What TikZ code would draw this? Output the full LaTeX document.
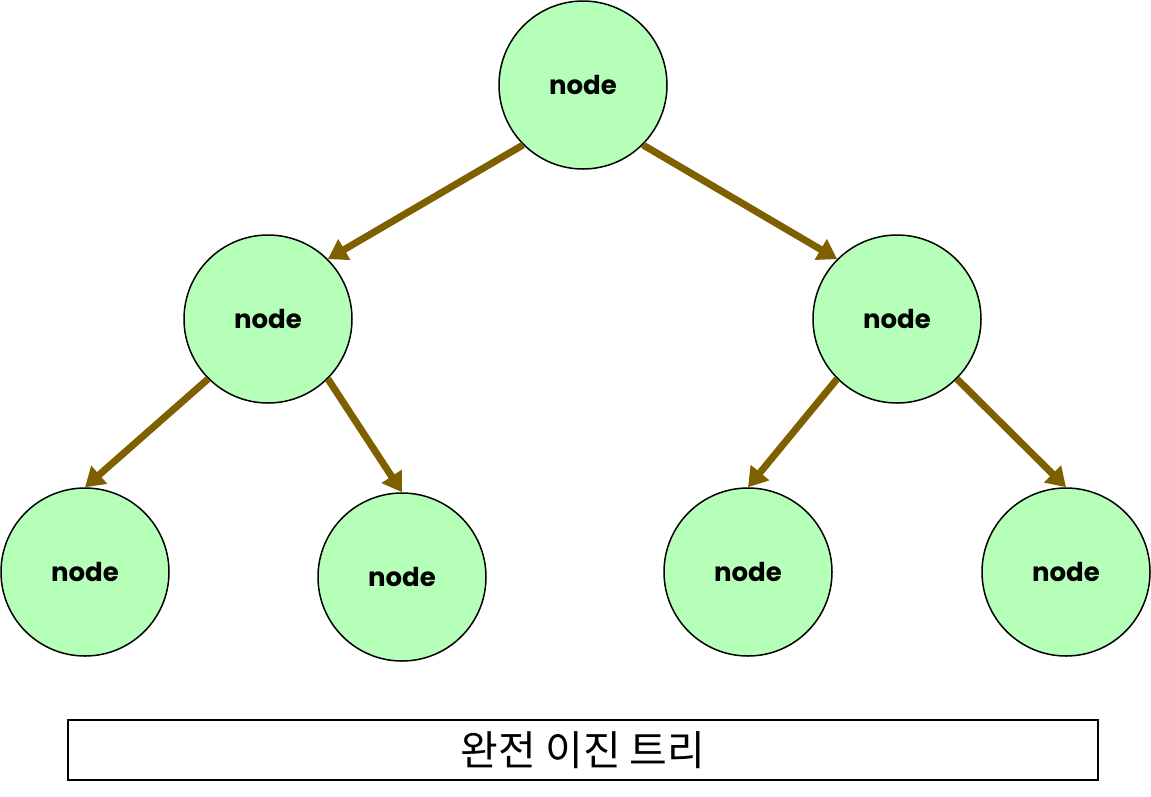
\documentclass[tikz,border=0pt]{standalone}
\usepackage{fontspec}
\setmainfont{Poppins}
\newfontfamily\krfont{Noto Sans CJK KR}
\usetikzlibrary{arrows.meta}
\definecolor{nodegreen}{HTML}{B5FFB8}
\definecolor{edgebrown}{HTML}{7F6000}
\begin{document}
\begin{tikzpicture}[x=1pt, y=-1pt,
    tnode/.style={circle, draw, line width=1.5pt, fill=nodegreen, minimum size=168pt, inner sep=0pt, font=\fontsize{26}{30}\selectfont\bfseries},
    tedge/.style={draw=edgebrown, line width=7pt, -{Triangle[length=19pt, width=23pt]}}]
    \useasboundingbox (0,0) rectangle (1151,796);
    \node[tnode] (tid0) at (583,85){node};
    \node[tnode] (tid1) at (268,319){node};
    \node[tnode] (tid2) at (897,319){node};
    \node[tnode] (tid3) at (85,572){node};
    \node[tnode] (tid4) at (402,577){node};
    \node[tnode] (tid5) at (748,572){node};
    \node[tnode] (tid6) at (1066,572){node};
    \draw[tedge](tid0.225) -- (tid1.45);
    \draw[tedge](tid0.-45) -- (tid2.135);
    \draw[tedge](tid1.225) -- (tid3.north);
    \draw[tedge](tid1.-45) -- (tid4.north);
    \draw[tedge](tid2.225) -- (tid5.north);
    \draw[tedge](tid2.-45) -- (tid6.north);
    \node[draw, line width=1.5pt, minimum width=1030pt, minimum height=60pt, inner sep=0pt, font=\krfont\fontsize{41}{44}\selectfont] (caption) at (583,750){완전 이진 트리};
  \end{tikzpicture}
\end{document}
